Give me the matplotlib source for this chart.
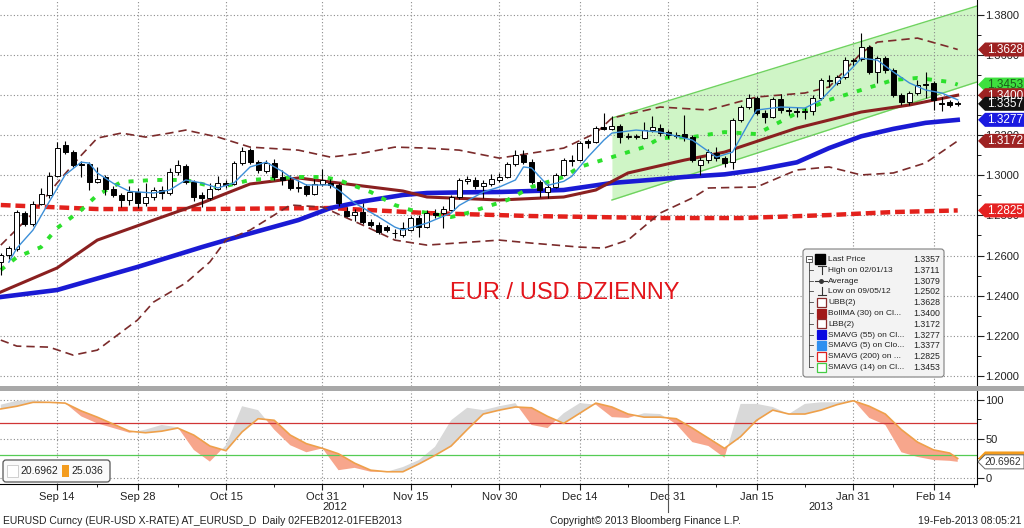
import matplotlib
matplotlib.use("Agg")
import matplotlib.pyplot as plt
from matplotlib.patches import Polygon, Rectangle, FancyBboxPatch
from matplotlib.transforms import blended_transform_factory
import numpy as np

plt.rcParams['font.family'] = ['Liberation Sans', 'DejaVu Sans']

# trading-day index, 0 = 14 Sep 2012
day = list(range(-7, 113))
opens = [1.2567, 1.2602, 1.2632, 1.2812, 1.2757, 1.2857, 1.2902, 1.2997, 1.3152, 1.3117,
         1.3055, 1.3055, 1.2967, 1.2992, 1.2932, 1.2902, 1.2877, 1.2917, 1.2862, 1.2892,
         1.2927, 1.2912, 1.3017, 1.3045, 1.2967, 1.2902, 1.2887, 1.2932, 1.2962, 1.2955,
         1.3062, 1.3127, 1.3067, 1.3022, 1.3062, 1.2992, 1.2977, 1.2937, 1.2947, 1.2907,
         1.2957, 1.2960, 1.2952, 1.2822, 1.2802, 1.2817, 1.2767, 1.2752, 1.2742, 1.2712,
         1.2702, 1.2727, 1.2787, 1.2742, 1.2812, 1.2812, 1.2827, 1.2892, 1.2972, 1.2977,
         1.2947, 1.2957, 1.2977, 1.2992, 1.3057, 1.3102, 1.3067, 1.2967, 1.2917, 1.2942,
         1.3002, 1.3077, 1.3077, 1.3172, 1.3167, 1.3240, 1.3232, 1.3247, 1.3192, 1.3190,
         1.3187, 1.3227, 1.3237, 1.3217, 1.3200, 1.3205, 1.3190, 1.3052, 1.3077, 1.3110,
         1.3085, 1.3065, 1.3277, 1.3342, 1.3387, 1.3312, 1.3292, 1.3382, 1.3325, 1.3322,
         1.3317, 1.3322, 1.3387, 1.3477, 1.3462, 1.3492, 1.3577, 1.3582, 1.3642, 1.3517,
         1.3587, 1.3527, 1.3400, 1.3366, 1.3411, 1.3455, 1.3461, 1.3362, 1.3366, 1.3360]
highs = [1.2612, 1.2650, 1.2825, 1.2822, 1.2872, 1.2935, 1.3015, 1.3167, 1.3172, 1.3125,
         1.3070, 1.3065, 1.3040, 1.3000, 1.2945, 1.2910, 1.2947, 1.2935, 1.2960, 1.2940,
         1.2945, 1.3035, 1.3075, 1.3055, 1.2975, 1.2915, 1.2960, 1.2995, 1.2975, 1.3070,
         1.3140, 1.3135, 1.3075, 1.3075, 1.3080, 1.3025, 1.3000, 1.2975, 1.2955, 1.2980,
         1.3030, 1.2980, 1.2960, 1.2840, 1.2830, 1.2862, 1.2780, 1.2765, 1.2750, 1.2730,
         1.2765, 1.2795, 1.2800, 1.2825, 1.2830, 1.2845, 1.2900, 1.2985, 1.2995, 1.2990,
         1.2975, 1.3005, 1.3010, 1.3065, 1.3125, 1.3125, 1.3080, 1.2975, 1.2955, 1.3010,
         1.3085, 1.3100, 1.3170, 1.3180, 1.3245, 1.3310, 1.3295, 1.3255, 1.3210, 1.3205,
         1.3265, 1.3295, 1.3255, 1.3225, 1.3215, 1.3300, 1.3200, 1.3090, 1.3130, 1.3140,
         1.3095, 1.3285, 1.3350, 1.3405, 1.3395, 1.3325, 1.3390, 1.3405, 1.3340, 1.3340,
         1.3335, 1.3400, 1.3485, 1.3500, 1.3500, 1.3590, 1.3585, 1.3711, 1.3650, 1.3595,
         1.3595, 1.3535, 1.3410, 1.3420, 1.3475, 1.3515, 1.3470, 1.3390, 1.3375, 1.3370]
lows = [1.2502, 1.2585, 1.2625, 1.2745, 1.2745, 1.2850, 1.2885, 1.2990, 1.3105, 1.3040,
        1.2990, 1.2925, 1.2962, 1.2900, 1.2890, 1.2840, 1.2850, 1.2835, 1.2845, 1.2875,
        1.2880, 1.2900, 1.3000, 1.2955, 1.2870, 1.2842, 1.2875, 1.2925, 1.2935, 1.2950,
        1.3050, 1.3055, 1.3010, 1.3010, 1.2975, 1.2950, 1.2925, 1.2915, 1.2895, 1.2900,
        1.2945, 1.2935, 1.2845, 1.2790, 1.2770, 1.2757, 1.2740, 1.2705, 1.2715, 1.2687,
        1.2690, 1.2720, 1.2692, 1.2735, 1.2785, 1.2737, 1.2820, 1.2880, 1.2955, 1.2930,
        1.2887, 1.2945, 1.2965, 1.2985, 1.3045, 1.3055, 1.2955, 1.2892, 1.2885, 1.2935,
        1.2995, 1.3045, 1.3070, 1.3135, 1.3160, 1.3225, 1.3225, 1.3160, 1.3180, 1.3180,
        1.3180, 1.3215, 1.3195, 1.3185, 1.3185, 1.3170, 1.3065, 1.3000, 1.3060, 1.3070,
        1.3040, 1.3030, 1.3265, 1.3330, 1.3300, 1.3260, 1.3285, 1.3310, 1.3300, 1.3290,
        1.3280, 1.3300, 1.3375, 1.3440, 1.3450, 1.3480, 1.3545, 1.3570, 1.3505, 1.3460,
        1.3510, 1.3390, 1.3350, 1.3350, 1.3400, 1.3385, 1.3326, 1.3320, 1.3340, 1.3345]
closes = [1.2602, 1.2637, 1.2817, 1.2757, 1.2857, 1.2907, 1.2997, 1.3137, 1.3117, 1.3052,
          1.3050, 1.2967, 1.2982, 1.2932, 1.2902, 1.2877, 1.2917, 1.2862, 1.2892, 1.2927,
          1.2912, 1.3017, 1.3052, 1.2967, 1.2892, 1.2885, 1.2932, 1.2962, 1.2952, 1.3062,
          1.3122, 1.3067, 1.3027, 1.3062, 1.2992, 1.2977, 1.2937, 1.2942, 1.2907, 1.2957,
          1.2977, 1.2952, 1.2862, 1.2797, 1.2817, 1.2767, 1.2752, 1.2717, 1.2727, 1.2712,
          1.2737, 1.2787, 1.2742, 1.2812, 1.2802, 1.2832, 1.2892, 1.2977, 1.2982, 1.2947,
          1.2962, 1.2982, 1.2992, 1.3057, 1.3102, 1.3067, 1.2967, 1.2927, 1.2942, 1.3002,
          1.3077, 1.3072, 1.3162, 1.3162, 1.3237, 1.3230, 1.3247, 1.3192, 1.3192, 1.3195,
          1.3227, 1.3242, 1.3212, 1.3202, 1.3195, 1.3190, 1.3077, 1.3077, 1.3117, 1.3087,
          1.3062, 1.3277, 1.3342, 1.3387, 1.3312, 1.3292, 1.3382, 1.3327, 1.3322, 1.3317,
          1.3322, 1.3387, 1.3477, 1.3470, 1.3492, 1.3577, 1.3572, 1.3642, 1.3517, 1.3587,
          1.3527, 1.3402, 1.3366, 1.3411, 1.3451, 1.3450, 1.3376, 1.3358, 1.3352, 1.3357]

sma200_day = [-7, 5, 18, 34, 46, 59, 75, 85, 96, 104, 112]
sma200 = [1.2852, 1.2832, 1.2832, 1.2837, 1.2812, 1.2797, 1.2787, 1.2787, 1.2802, 1.2817, 1.2825]

sma55_day = [-7, 0, 10, 18, 21, 30, 34, 38, 43, 46, 50, 55, 63, 69, 74, 78, 83, 87, 92,
             96, 100, 104, 108, 112]
sma55 = [1.2393, 1.2428, 1.2543, 1.2642, 1.2677, 1.2777, 1.2837, 1.2870, 1.2902, 1.2912,
         1.2915, 1.2917, 1.2927, 1.2962, 1.2978, 1.2992, 1.3005, 1.3027, 1.3065, 1.3136,
         1.3195, 1.3232, 1.3262, 1.3277]

bollma_day = [-7, 0, 5, 12, 18, 24, 30, 36, 43, 46, 55, 63, 67, 71, 78, 83, 92, 100, 106, 112]
bollma = [1.2418, 1.2538, 1.2677, 1.2777, 1.2862, 1.2957, 1.2987, 1.2957, 1.2922, 1.2892,
          1.2877, 1.2892, 1.2927, 1.3012, 1.3076, 1.3116, 1.3236, 1.3316, 1.3351, 1.3400]

ubb_day = [-7, -3, 0, 3, 5, 8, 11, 14, 16, 20, 24, 30, 34, 38, 42, 46, 50, 55, 59, 63,
           67, 69, 75, 81, 87, 93, 96, 100, 102, 107, 111, 112]
ubb = [1.2652, 1.2812, 1.2962, 1.3100, 1.3186, 1.3211, 1.3191, 1.3211, 1.3226, 1.3191,
       1.3141, 1.3126, 1.3091, 1.3111, 1.3141, 1.3136, 1.3126, 1.3086, 1.3111, 1.3136,
       1.3211, 1.3286, 1.3341, 1.3326, 1.3391, 1.3411, 1.3441, 1.3610, 1.3665, 1.3685,
       1.3640, 1.3628]

lbb_day = [-7, -5, -1, 2, 5, 10, 12, 16, 19, 21, 24, 29, 33, 38, 42, 46, 55, 59, 65, 68,
           71, 75, 79, 81, 87, 92, 96, 100, 104, 108, 112]
lbb = [1.2178, 1.2148, 1.2143, 1.2103, 1.2128, 1.2278, 1.2368, 1.2463, 1.2568, 1.2677,
       1.2727, 1.2852, 1.2842, 1.2752, 1.2677, 1.2652, 1.2677, 1.2662, 1.2642, 1.2637,
       1.2677, 1.2812, 1.2887, 1.2937, 1.2942, 1.3027, 1.3042, 1.3002, 1.3012, 1.3062,
       1.3172]

sma14_day = [-7, -5, -2, 0, 3, 5, 8, 12, 16, 20, 24, 30, 33, 35, 39, 42, 44, 49, 51, 56,
             59, 63, 65, 69, 73, 75, 79, 83, 87, 92, 96, 100, 104, 107, 111, 112]
sma14 = [1.2528, 1.2592, 1.2642, 1.2737, 1.2827, 1.2902, 1.2967, 1.2977, 1.2977, 1.2937,
         1.2977, 1.2992, 1.2992, 1.2977, 1.2917, 1.2852, 1.2827, 1.2792, 1.2812, 1.2877,
         1.2942, 1.2992, 1.3042, 1.3091, 1.3141, 1.3186, 1.3191, 1.3216, 1.3206, 1.3311,
         1.3376, 1.3426, 1.3476, 1.3486, 1.3466, 1.3453]

sma5_day = [-6, -5, -3, -1, 1, 3, 4, 5, 7, 9, 12, 14, 16, 18, 20, 22, 24, 26, 28, 29,
            31, 34, 35, 37, 40, 42, 43, 46, 49, 50, 53, 55, 57, 58, 59, 61, 63, 64, 66, 68,
            69, 72, 75, 79, 82, 84, 86, 87, 90, 93, 95, 97, 99, 100, 102, 104, 106, 108, 110, 112]
sma5 = [1.2567, 1.2637, 1.2727, 1.2867, 1.3002, 1.3066, 1.3061, 1.3012, 1.2960, 1.2920,
        1.2912, 1.2927, 1.2977, 1.2962, 1.2937, 1.2962, 1.3042, 1.3066, 1.3020, 1.2992,
        1.2952, 1.2952, 1.2927, 1.2862, 1.2792, 1.2742, 1.2727, 1.2762, 1.2812, 1.2850,
        1.2917, 1.2942, 1.2977, 1.3042, 1.3037, 1.2950, 1.2970, 1.2995, 1.3091, 1.3176,
        1.3211, 1.3226, 1.3216, 1.3176, 1.3091, 1.3116, 1.3261, 1.3326, 1.3341, 1.3336,
        1.3376, 1.3461, 1.3541, 1.3585, 1.3575, 1.3516, 1.3461, 1.3426, 1.3411, 1.3377]

# trend channel (start / end)
chan_day = [69, 114.4]
chan_upper = [1.3286, 1.3845]
chan_lower = [1.2877, 1.3466]

# oscillator panel
osc_day = list(range(-7, 112, 2)) + [112]
osc_k = [94, 99, 100, 97, 96, 79, 70, 64, 58, 62, 68, 65, 36, 21, 42, 92, 87, 62, 42, 33,
         38, 10, 13, 8, 8, 14, 23, 40, 74, 90, 87, 92, 96, 68, 64, 83, 96, 94, 78, 77,
         83, 82, 69, 46, 41, 26, 95, 95, 91, 82, 95, 97, 97, 100, 77, 68, 33, 27, 23, 22, 20.6962]
osc_d = [88.5, 92, 97, 97, 96, 86, 78, 69, 60, 58, 60, 64, 55, 41, 35, 59, 76, 74, 55, 44,
         38, 31, 19, 10, 8, 8, 18, 29, 41, 62, 82, 87, 91, 90, 79, 70, 83, 96, 91, 82,
         78, 78, 76, 64, 51, 38, 53, 74, 87, 82, 82, 87, 94, 99, 92, 82, 62, 46, 36, 32, 25.036]

tick_days = [0, 10, 21, 33, 44, 55, 65, 76, 87, 99, 109]
tick_labels = ['Sep 14', 'Sep 28', 'Oct 15', 'Oct 31', 'Nov 15', 'Nov 30',
               'Dec 14', 'Dec 31', 'Jan 15', 'Jan 31', 'Feb 14']
minor_days = [5, 15, 27, 38, 49, 60, 71, 82, 93, 104, 114]

tag_values = [1.3628, 1.3453, 1.3400, 1.3357, 1.3277, 1.3172, 1.2825]
tag_fc = ['#9e2222', '#3ee03e', '#9e2222', '#111111', '#1a1ae0', '#9e2222', '#e52222']
tag_tc = ['white', '#1c5c1c', 'white', 'white', 'white', 'white', 'white']

legend_names = ['Last Price', 'High on 02/01/13', 'Average', 'Low on 09/05/12', 'UBB(2)',
                'BollMA (30) on Cl...', 'LBB(2)', 'SMAVG (55) on Cl...', 'SMAVG (5) on Clo...',
                'SMAVG (200) on ...', 'SMAVG (14) on Cl...']
legend_values = ['1.3357', '1.3711', '1.3079', '1.2502', '1.3628', '1.3400', '1.3172',
                 '1.3277', '1.3377', '1.2825', '1.3453']

W, H = 1024, 528
fig = plt.figure(figsize=(W / 100, H / 100), dpi=100)
ax = fig.add_axes([0, 142 / H, 977 / W, 386 / H])
ax2 = fig.add_axes([0, 44 / H, 977 / W, 94 / H], sharex=ax)

# ---- price panel ----
ax.fill_between(chan_day, chan_lower, chan_upper, color='#cff5c6', lw=0, zorder=0.5)
ax.plot(chan_day, chan_upper, color='#6fd35f', lw=1, zorder=0.6)
ax.plot(chan_day, chan_lower, color='#6fd35f', lw=1, zorder=0.6)

ax.plot(sma200_day, sma200, color='#e3211c', lw=3.2, dashes=(2.2, 1.1), zorder=3)
ax.plot(sma55_day, sma55, color='#1a1ad4', lw=3.3, zorder=3)
ax.plot(bollma_day, bollma, color='#8a2020', lw=2.2, zorder=3)
ax.plot(ubb_day, ubb, color='#7b2b2b', lw=1.2, dashes=(5, 3), zorder=3)
ax.plot(lbb_day, lbb, color='#7b2b2b', lw=1.2, dashes=(5, 3), zorder=3)
ax.plot(sma14_day, sma14, color='#2de02d', lw=2.8, dashes=(1.3, 2.4), zorder=3)

o = np.array(opens)
c = np.array(closes)
body_col = ['white' if cc >= oo else 'black' for oo, cc in zip(o, c)]
ax.vlines(day, lows, highs, color='black', lw=0.8, zorder=4)
ax.bar(day, np.maximum(np.abs(c - o), 0.0002), bottom=np.minimum(o, c), width=0.62,
       color=body_col, edgecolor='black', linewidth=0.7, zorder=5)
ax.plot(sma5_day, sma5, color='#3c8fd8', lw=1.0, zorder=6)

ax.set_xlim(-7.1, 114.4)
ax.set_ylim(1.1949, 1.3875)
ax.yaxis.tick_right()
ax.set_yticks(np.arange(1.20, 1.3801, 0.02))
ax.set_yticklabels(['%.4f' % v for v in np.arange(1.20, 1.3801, 0.02)])
ax.set_yticks(np.arange(1.21, 1.3801, 0.02), minor=True)
ax.tick_params(axis='y', which='major', length=5, labelsize=8, pad=1, colors='#222222')
ax.tick_params(axis='y', which='minor', length=3)
ax.tick_params(axis='x', which='both', bottom=False, labelbottom=False)
ax.set_xticks(tick_days)
ax.grid(True, which='major', color='#8c8c8c', linestyle=(0, (1, 2)), lw=0.8)
for s in ['left', 'top', 'bottom']:
    ax.spines[s].set_visible(False)
ax.spines['right'].set_color('black')

# ---- oscillator panel ----
k = np.array(osc_k)
d = np.array(osc_d)
ax2.fill_between(osc_day, k, d, where=k >= d, interpolate=True, color='#d9d9d9', lw=0, zorder=2)
ax2.fill_between(osc_day, k, d, where=k < d, interpolate=True, color='#f7a68c', lw=0, zorder=2)
ax2.plot(osc_day, d, color='#eea04a', lw=1.2, zorder=3)
ax2.axhline(70, color='#d03535', lw=0.9, zorder=2.5)
ax2.axhline(30, color='#55cc55', lw=0.9, zorder=2.5)
ax2.set_ylim(-7.7, 112.8)
ax2.yaxis.tick_right()
ax2.set_yticks([0, 50, 100])
ax2.set_yticks([25, 75], minor=True)
ax2.tick_params(axis='y', which='major', length=5, labelsize=8, pad=1, colors='#222222')
ax2.tick_params(axis='y', which='minor', length=3)
ax2.set_xticks(tick_days)
ax2.set_xticklabels(tick_labels)
ax2.set_xticks(minor_days, minor=True)
ax2.tick_params(axis='x', which='major', length=4, labelsize=8, pad=2, colors='#222222')
ax2.tick_params(axis='x', which='minor', length=2.5)
ax2.grid(True, which='major', color='#8c8c8c', linestyle=(0, (1, 2)), lw=0.8)
for s in ['left', 'top']:
    ax2.spines[s].set_visible(False)

bt = blended_transform_factory(ax2.transData, ax2.transAxes)
ax2.plot([76, 76], [0, -0.3], color='#555555', lw=0.8, transform=bt, clip_on=False)
ax2.text(34.5, -0.24, '2012', transform=bt, ha='center', va='center', fontsize=8, color='#222222')
ax2.text(95, -0.24, '2013', transform=bt, ha='center', va='center', fontsize=8, color='#222222')

# ---- overlay in pixel coordinates ----
ov = fig.add_axes([0, 0, 1, 1])
ov.set_xlim(0, W)
ov.set_ylim(H, 0)
ov.axis('off')

ov.add_patch(Rectangle((0, 386), W, 4.5, fc='#a8a8a8', ec='none'))


def ypix(axis, v):
    return H - axis.transData.transform((0, v))[1]


def tag(yc, text, fc, tc, ec='none', fs=8.5, tx=987):
    pts = [(978, yc), (985, yc - 7), (1024, yc - 7), (1024, yc + 7), (985, yc + 7)]
    ov.add_patch(Polygon(pts, closed=True, fc=fc, ec=ec, lw=0.7))
    ov.text(tx, yc + 0.5, text, color=tc, fontsize=fs, va='center', ha='left')


for v, fc, tc in zip(tag_values, tag_fc, tag_tc):
    tag(ypix(ax, v), '%.4f' % v, fc, tc)

tag(ypix(ax2, osc_d[-1]), '', '#f39c1e', 'white')
tag(ypix(ax2, osc_k[-1]), '%.4f' % osc_k[-1], 'white', '#333333', ec='#666666', fs=7.3, tx=984)

# title
ov.text(565, 293, 'EUR / USD DZIENNY', color='#e3151b', fontsize=17, ha='center', va='center')

# price legend
ov.add_patch(FancyBboxPatch((803, 249), 141, 128, boxstyle='round,pad=0,rounding_size=3',
                            fc='#f3f3f3', ec='#7f7f7f', lw=0.8))
rows = [259 + 10.8 * r for r in range(len(legend_names))]
ov.plot([809, 809], [262, rows[-1]], color='#444444', lw=0.6)
ov.add_patch(Rectangle((806, 256), 6, 6, fc='white', ec='#444444', lw=0.6))
ov.plot([807.5, 810.5], [259, 259], color='#444444', lw=0.6)
for r, (name, val) in enumerate(zip(legend_names, legend_values)):
    y = rows[r]
    if r > 0:
        ov.plot([809, 813], [y, y], color='#444444', lw=0.6)
    ov.text(828, y + 0.5, name, fontsize=6, va='center', ha='left', color='#222222')
    ov.text(940, y + 0.5, val, fontsize=6.3, va='center', ha='right', color='#222222')

ov.add_patch(Rectangle((815, 254), 10, 10, fc='black', ec='black'))
ov.plot([818, 826], [rows[1] - 4, rows[1] - 4], color='#333333', lw=0.8)
ov.plot([822, 822], [rows[1] - 4, rows[1] + 4], color='#333333', lw=0.8)
ov.plot([815, 827], [rows[2], rows[2]], color='#333333', lw=0.8)
ov.plot([821], [rows[2]], 'o', color='#333333', ms=2.5)
ov.plot([822, 822], [rows[3] - 4, rows[3] + 4], color='#333333', lw=0.8)
ov.plot([818, 826], [rows[3] + 4, rows[3] + 4], color='#333333', lw=0.8)
icon_fc = ['white', '#a01818', 'white', '#0a0ae0', '#2e8ff0', 'white', 'white']
icon_ec = ['#8a2a2a', '#a01818', '#8a2a2a', '#0a0ae0', '#2e8ff0', '#e02020', '#44cc44']
for r, (fc, ec) in enumerate(zip(icon_fc, icon_ec)):
    y = rows[r + 4]
    ov.add_patch(Rectangle((817, y - 4.5), 9, 9, fc=fc, ec=ec, lw=0.9))

# oscillator legend
ov.add_patch(FancyBboxPatch((3, 460), 107, 22, boxstyle='round,pad=0,rounding_size=3',
                            fc='#fafafa', ec='#555555', lw=0.9))
ov.add_patch(Rectangle((7, 465), 11, 12, fc='white', ec='#c8c8c8', lw=0.6))
ov.text(20, 471.5, '%.4f' % osc_k[-1], fontsize=7.5, va='center', color='#222222')
ov.add_patch(Rectangle((62, 465), 7, 12, fc='#f39c1e', ec='none'))
ov.text(71, 471.5, '%g' % osc_d[-1], fontsize=7.5, va='center', color='#222222')

# footer
ov.text(3, 521, 'EURUSD Curncy (EUR-USD X-RATE) AT_EURUSD_D  Daily 02FEB2012-01FEB2013',
        fontsize=7.5, va='center', color='#222222')
ov.text(550, 521, 'Copyright\u00a9 2013 Bloomberg Finance L.P.', fontsize=7.5,
        va='center', color='#222222')
ov.text(1021, 521, '19-Feb-2013 08:05:21', fontsize=7.5, va='center', ha='right',
        color='#222222')

fig.savefig('out.png', dpi=100)
